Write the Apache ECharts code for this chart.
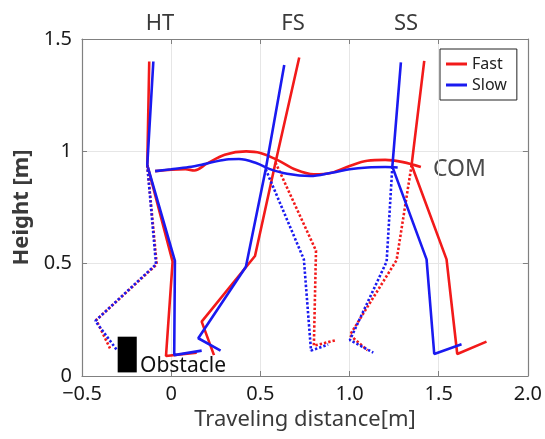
<!DOCTYPE html>
<html>
<head>
<meta charset="utf-8">
<script src="https://cdn.jsdelivr.net/npm/echarts@6/dist/echarts.min.js"></script>
<style>html,body{margin:0;padding:0;background:#fff}#c{width:545px;height:439px}</style>
</head>
<body>
<div id="c"></div>
<script>
// ---- data (m) ----
const xTickLabels = ['\u22120.5', '0', '0.5', '1.0', '1.5', '2.0'];
const yTickLabels = ['0', '0.5', '1', '1.5'];
const phaseLabels = ['HT', 'FS', 'SS'];

// HT posture
const htFastSolid  = [[0.143,0.104],[-0.029,0.089],[0.008,0.509],[-0.134,0.939],[-0.123,1.400]];
const htSlowSolid  = [[0.171,0.113],[0.017,0.093],[0.021,0.512],[-0.134,0.939],[-0.100,1.400]];
const htFastDotted = [[-0.134,0.939],[-0.081,0.497],[-0.420,0.249],[-0.343,0.123]];
const htSlowDotted = [[-0.134,0.939],[-0.085,0.497],[-0.425,0.245],[-0.302,0.113]];
// FS posture
const fsFastSolid  = [[0.240,0.093],[0.171,0.242],[0.470,0.534],[0.585,0.950],[0.718,1.418]];
const fsSlowSolid  = [[0.277,0.113],[0.152,0.168],[0.419,0.486],[0.530,0.920],[0.634,1.384]];
const fsFastDotted = [[0.585,0.950],[0.812,0.558],[0.800,0.135],[0.928,0.160]];
const fsSlowDotted = [[0.530,0.920],[0.744,0.519],[0.784,0.113],[0.880,0.140]];
// SS posture
const ssFastSolid  = [[1.419,1.403],[1.348,0.939],[1.544,0.519],[1.604,0.098],[1.768,0.153]];
const ssSlowSolid  = [[1.288,1.396],[1.240,0.932],[1.432,0.519],[1.475,0.098],[1.628,0.141]];
const ssFastDotted = [[1.348,0.939],[1.264,0.516],[1.002,0.182],[1.100,0.115]];
const ssSlowDotted = [[1.240,0.932],[1.208,0.509],[1.002,0.160],[1.133,0.104]];
// COM trajectories
const comFast = [[-0.09,0.912],[0.0,0.918],[0.08,0.920],[0.13,0.915],[0.20,0.945],[0.30,0.985],[0.42,1.000],[0.50,0.993],[0.60,0.960],[0.70,0.918],[0.80,0.898],[0.90,0.905],[1.00,0.935],[1.10,0.958],[1.20,0.962],[1.30,0.952],[1.40,0.930]];
const comSlow = [[-0.09,0.912],[0.0,0.920],[0.10,0.930],[0.18,0.942],[0.31,0.964],[0.38,0.966],[0.48,0.947],[0.55,0.922],[0.65,0.900],[0.78,0.890],[0.90,0.905],[1.00,0.920],[1.10,0.928],[1.20,0.930],[1.27,0.928]];
// obstacle box [x0, y0, x1, y1]
const obstacle = [[-0.300, 0.016, -0.193, 0.175]];

const RED = '#f21a1a', BLUE = '#1a1af0';
const FONT = 'Noto Sans';

function line(name, data, color, dotted, smooth) {
  return {
    type: 'line', name: name, data: data, color: color,
    symbol: 'none', showSymbol: false, smooth: smooth ? 0.35 : false,
    lineStyle: { color: color, width: 2.6, type: dotted ? [2.4, 2.0] : 'solid' },
    emphasis: { disabled: true }, silent: true, z: 3
  };
}

const series = [
  line('Fast', htFastSolid, RED, false),
  line('Slow', htSlowSolid, BLUE, false),
  line('Fast', fsFastSolid, RED, false),
  line('Fast', ssFastSolid, RED, false),
  line('Fast', htFastDotted, RED, true),
  line('Fast', fsFastDotted, RED, true),
  line('Fast', ssFastDotted, RED, true),
  line('Fast', comFast, RED, false, true),
  line('Slow', fsSlowSolid, BLUE, false),
  line('Slow', ssSlowSolid, BLUE, false),
  line('Slow', htSlowDotted, BLUE, true),
  line('Slow', fsSlowDotted, BLUE, true),
  line('Slow', ssSlowDotted, BLUE, true),
  line('Slow', comSlow, BLUE, false, true),
  {
    type: 'custom', name: 'Obstacle', data: obstacle, silent: true, z: 2,
    renderItem: function (params, api) {
      const p0 = api.coord([api.value(0), api.value(3)]);
      const p1 = api.coord([api.value(2), api.value(1)]);
      return { type: 'rect', shape: { x: p0[0], y: p0[1], width: p1[0] - p0[0], height: p1[1] - p0[1] }, style: { fill: '#000' } };
    }
  }
];

const gridColor = '#e6e6e6', boxColor = '#808080';
const chart = echarts.init(document.getElementById('c'), null, { renderer: 'canvas' });
chart.setOption({
  animation: false,
  backgroundColor: '#fff',
  grid: { left: 82, right: 17, top: 39, bottom: 63, containLabel: false },
  legend: {
    data: [{ name: 'Fast', icon: 'rect' }, { name: 'Slow', icon: 'rect' }],
    orient: 'vertical', left: 440, top: 49,
    itemWidth: 21, itemHeight: 3, itemGap: 5,
    padding: [7, 10, 7, 6],
    borderColor: '#222', borderWidth: 1, backgroundColor: '#fff',
    textStyle: { fontFamily: FONT, fontSize: 16, color: '#222' },
    selectedMode: false
  },
  xAxis: [{
    type: 'value', min: -0.5, max: 2.0, interval: 0.5, position: 'bottom',
    name: 'Traveling distance[m]', nameLocation: 'middle', nameGap: 32,
    nameTextStyle: { fontFamily: FONT, fontSize: 22, color: '#3a3a3a' },
    axisLine: { show: true, onZero: false, lineStyle: { color: boxColor, width: 1.2 } },
    axisTick: { show: true, inside: true, length: 5, lineStyle: { color: boxColor } },
    axisLabel: { margin: 8, fontFamily: FONT, fontSize: 20, color: '#1a1a1a',
      formatter: function (v) { return xTickLabels[Math.round((v + 0.5) / 0.5)]; } },
    splitLine: { show: true, lineStyle: { color: gridColor, width: 1 } }
  }, {
    type: 'value', min: -0.5, max: 2.0, interval: 0.5, position: 'top',
    axisLine: { show: true, onZero: false, lineStyle: { color: boxColor, width: 1.2 } },
    axisTick: { show: true, inside: true, length: 5, lineStyle: { color: boxColor } },
    axisLabel: { show: false }, splitLine: { show: false }
  }],
  yAxis: [{
    type: 'value', min: 0, max: 1.5, interval: 0.5, position: 'left',
    name: 'Height [m]', nameLocation: 'middle', nameGap: 45,
    nameTextStyle: { fontFamily: FONT, fontSize: 22, fontWeight: 'bold', color: '#3a3a3a' },
    axisLine: { show: true, onZero: false, lineStyle: { color: boxColor, width: 1.2 } },
    axisTick: { show: true, inside: true, length: 5, lineStyle: { color: boxColor } },
    axisLabel: { margin: 10, fontFamily: FONT, fontSize: 20, color: '#1a1a1a',
      formatter: function (v) { return yTickLabels[Math.round(v / 0.5)]; } },
    splitLine: { show: true, lineStyle: { color: gridColor, width: 1 } }
  }, {
    type: 'value', min: 0, max: 1.5, interval: 0.5, position: 'right',
    axisLine: { show: true, onZero: false, lineStyle: { color: boxColor, width: 1.2 } },
    axisTick: { show: true, inside: true, length: 5, lineStyle: { color: boxColor } },
    axisLabel: { show: false }, splitLine: { show: false }
  }],
  graphic: [
    { type: 'text', x: 160, y: 24, style: { text: phaseLabels[0], fontFamily: FONT, fontSize: 22, fill: '#3a3a3a', align: 'center', verticalAlign: 'middle' } },
    { type: 'text', x: 293, y: 24, style: { text: phaseLabels[1], fontFamily: FONT, fontSize: 22, fill: '#3a3a3a', align: 'center', verticalAlign: 'middle' } },
    { type: 'text', x: 406, y: 24, style: { text: phaseLabels[2], fontFamily: FONT, fontSize: 22, fill: '#3a3a3a', align: 'center', verticalAlign: 'middle' } },
    { type: 'text', x: 433, y: 169, style: { text: 'COM', fontFamily: FONT, fontSize: 23, fill: '#4a4a4a', align: 'left', verticalAlign: 'middle' } },
    { type: 'text', x: 140, y: 366, z: 10, style: { text: 'Obstacle', fontFamily: FONT, fontSize: 21, fill: '#111', align: 'left', verticalAlign: 'middle' } }
  ],
  series: series
});
</script>
</body>
</html>
